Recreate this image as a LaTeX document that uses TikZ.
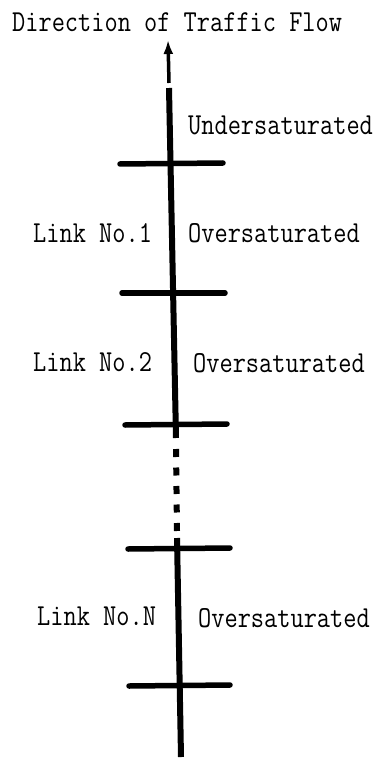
\documentclass[tikz,border=0pt]{standalone}
\usetikzlibrary{arrows.meta}
\newcommand{\cond}[1]{\scalebox{0.84}[1]{#1}}
\begin{document}
\begin{tikzpicture}[x=1pt,y=-1pt,
  lbl/.style={anchor=base west,inner sep=0pt,font=\ttfamily\fontsize{30.5}{31}\selectfont},
  road/.style={line width=6pt},
  bar/.style={line width=5.5pt,line cap=round},
  dotted road/.style={line width=6pt,dash pattern=on 8pt off 10.5pt}]
\useasboundingbox (0,0) rectangle (384,762);
% coordinates along the road
\coordinate (tip) at (168,40);
\coordinate (ashaft) at (169,83);
\coordinate (s1) at (169,88);
\coordinate (e1) at (176,438);
\coordinate (d1) at (176,449);
\coordinate (d2) at (177,531);
\coordinate (s2) at (177,538);
\coordinate (e2) at (181,757);
\coordinate (b1l) at (120,164); \coordinate (b1r) at (223,163);
\coordinate (b2l) at (122,293); \coordinate (b2r) at (225,293);
\coordinate (b3l) at (125,425); \coordinate (b3r) at (227,424);
\coordinate (b4l) at (128,549); \coordinate (b4r) at (230,548);
\coordinate (b5l) at (129,686); \coordinate (b5r) at (230,685);
% road
\draw[line width=3.5pt,-{Latex[length=14pt,width=10pt]}] (ashaft) -- (tip);
\draw[road] (s1) -- (e1);
\draw[dotted road] (d1) -- (d2);
\draw[road] (s2) -- (e2);
% link boundaries
\draw[bar] (b1l) -- (b1r);
\draw[bar] (b2l) -- (b2r);
\draw[bar] (b3l) -- (b3r);
\draw[bar] (b4l) -- (b4r);
\draw[bar] (b5l) -- (b5r);
% labels
\node[lbl] (title) at (12,32) {\cond{Direction of Traffic Flow}};
\node[lbl] (under) at (188,135) {\cond{Undersaturated}};
\node[lbl] (link1) at (33,242) {\cond{Link No.1}};
\node[lbl] (over1) at (188,242) {\cond{Oversaturated}};
\node[lbl] (link2) at (33,371) {\cond{Link No.2}};
\node[lbl] (over2) at (193,372) {\cond{Oversaturated}};
\node[lbl] (linkN) at (37,625) {\cond{Link No.N}};
\node[lbl] (overN) at (198,627) {\cond{Oversaturated}};
\end{tikzpicture}
\end{document}
